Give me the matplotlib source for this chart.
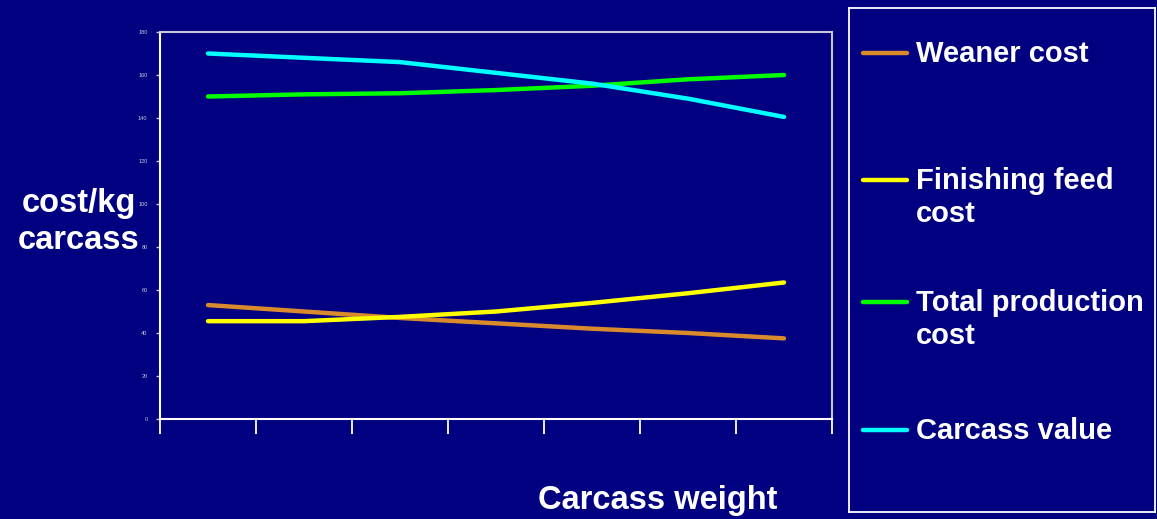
import matplotlib
matplotlib.use("Agg")
import matplotlib.pyplot as plt
from matplotlib.lines import Line2D

plt.rcParams['font.family'] = ['Liberation Sans', 'DejaVu Sans']

categories = ["1", "2", "3", "4", "5", "6", "7"]
weaner_cost = [53, 50, 47, 44.5, 42, 40, 37.5]
finishing_feed_cost = [45.5, 45.5, 47.5, 50, 54, 58.5, 63.5]
total_production_cost = [150, 151, 151.5, 153, 155, 158, 160]
carcass_value = [170, 168, 166, 161, 156, 149, 140.5]
y_ticks = [0, 20, 40, 60, 80, 100, 120, 140, 160, 180]

series = [
    ("Weaner cost", weaner_cost, "#D98A2C"),
    ("Finishing feed\ncost", finishing_feed_cost, "#FFFF00"),
    ("Total production\ncost", total_production_cost, "#00FF00"),
    ("Carcass value", carcass_value, "#00FFFF"),
]

BG = "#000080"
W, H = 1157, 519
fig = plt.figure(figsize=(W / 100, H / 100), dpi=100, facecolor=BG)

ax = fig.add_axes([160 / W, 1 - 419 / H, (832 - 160) / W, (419 - 32) / H], facecolor=BG)
x = list(range(len(categories)))
for label, vals, col in series:
    ax.plot(x, vals, color=col, lw=3.2, solid_capstyle='round')

ax.set_xlim(-0.5, len(categories) - 0.5)
ax.set_ylim(0, 180)
ax.set_yticks(y_ticks)
ax.set_yticklabels([str(v) for v in y_ticks])
ax.set_xticks([i - 0.5 for i in range(len(categories) + 1)])
ax.set_xticklabels([])
ax.tick_params(axis='x', direction='out', length=11, width=1.3, colors='white')
ax.tick_params(axis='y', direction='out', length=3, width=1, colors='#C8C8E0', labelsize=4, pad=6)
for s in ['left', 'bottom']:
    ax.spines[s].set_color('white')
    ax.spines[s].set_linewidth(1.5)
for s in ['top', 'right']:
    ax.spines[s].set_color('#C8C8D8')
    ax.spines[s].set_linewidth(1.5)

fig.text(79 / W, 1 - 222 / H, "cost/kg\ncarcass", color='white', fontsize=23.5,
         fontweight='bold', ha='center', va='center', linespacing=1.25)
fig.text(658 / W, 1 - 501 / H, "Carcass weight", color='white', fontsize=23.5,
         fontweight='bold', ha='center', va='center')

# legend panel
lax = fig.add_axes([849 / W, 1 - 512 / H, (1155 - 849) / W, (512 - 8) / H], facecolor=BG)
lax.set_xlim(849, 1155)
lax.set_ylim(512, 8)
lax.set_xticks([])
lax.set_yticks([])
for s in lax.spines.values():
    s.set_color('white')
    s.set_linewidth(1.3)
ys = [53, 180, 302, 430]
for (label, vals, col), yy in zip(series, ys):
    lax.add_line(Line2D([863, 907], [yy, yy], color=col, lw=3.2, solid_capstyle='round'))
    lax.text(916, yy - 13, label, color='white', fontsize=21, fontweight='bold',
             ha='left', va='top', linespacing=1.25)

fig.savefig("out.png", dpi=100, facecolor=BG)
